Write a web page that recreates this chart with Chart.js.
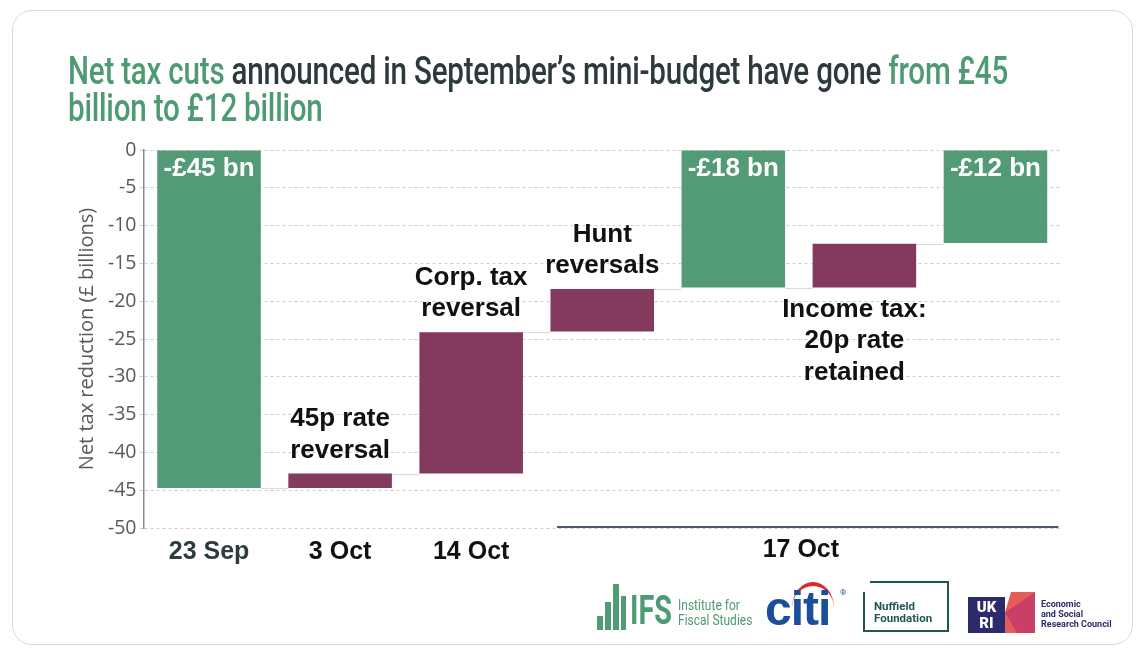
<!DOCTYPE html>
<html>
<head>
<meta charset="utf-8">
<script src="https://cdn.jsdelivr.net/npm/chart.js@4.4.1/dist/chart.umd.min.js"></script>
<style>
  html,body{margin:0;padding:0;background:#fff;width:1146px;height:656px;overflow:hidden;}
  #card{position:absolute;left:12px;top:10px;width:1119px;height:633px;border:1.5px solid #d9d9d9;border-radius:20px;}
  #chartWrap{position:absolute;left:0;top:0;width:1146px;height:656px;}
  #title{position:absolute;left:68px;top:53px;font-family:Roboto,"Noto Sans",sans-serif;font-weight:500;font-size:39px;line-height:37px;color:#2c3a3d;white-space:nowrap;transform-origin:0 0;letter-spacing:-0.3px;}
  #title .g{color:#4e9a73;}
  .logo{position:absolute;font-family:Roboto,"Liberation Sans",sans-serif;}
</style>
</head>
<body>
<div id="card"></div>
<div id="chartWrap"><canvas id="c" width="1146" height="656"></canvas></div>
<div id="title"><span id="l1"><span class="g">Net tax cuts</span> announced in September’s mini-budget have gone <span class="g">from £45</span></span><br><span class="g">billion to £12 billion</span></div>

<!-- logos -->
<div class="logo" style="left:597px;top:584px;width:30px;height:46px;">
  <div style="position:absolute;left:0;bottom:0;width:6px;height:14px;background:#4e9a73;"></div>
  <div style="position:absolute;left:8px;bottom:0;width:6px;height:28px;background:#4e9a73;"></div>
  <div style="position:absolute;left:16px;bottom:0;width:6px;height:46px;background:#4e9a73;"></div>
  <div style="position:absolute;left:24px;bottom:0;width:5px;height:34px;background:#4e9a73;"></div>
</div>
<div class="logo" style="left:630px;top:591px;font-size:40px;font-weight:700;color:#4e9a73;line-height:40px;transform:scaleX(0.72);transform-origin:0 0;">IFS</div>
<div class="logo" style="left:678px;top:598px;font-size:15px;color:#4e9a73;line-height:15px;transform:scaleX(0.8);transform-origin:0 0;white-space:nowrap;">Institute for<br>Fiscal Studies</div>
<div class="logo" style="left:792px;top:582px;width:42px;height:22px;border-top:4px solid #d8292f;border-radius:50% 50% 0 0 / 100% 100% 0 0;"></div>
<div class="logo" style="left:765px;top:586px;font-size:48px;font-weight:700;color:#1b4f9c;line-height:46px;font-family:'Liberation Sans',Arial,sans-serif;letter-spacing:-1px;">citi</div>
<div class="logo" style="left:840px;top:588px;font-size:8px;color:#1b4f9c;">®</div>
<div class="logo" style="left:863px;top:581px;width:82px;height:47px;border:2.5px solid #1f5755;border-left-width:2.5px;"></div>
<div class="logo" style="left:860px;top:578px;width:10px;height:14px;background:#fff;"></div>
<div class="logo" style="left:874px;top:600px;font-size:11.5px;font-weight:700;color:#1f5755;line-height:12px;">Nuffield<br>Foundation</div>
<div class="logo" style="left:968px;top:597px;width:37px;height:36px;background:#2c2a6b;color:#fff;font-weight:900;font-size:15px;line-height:16px;text-align:center;padding-top:2px;box-sizing:border-box;">UK<br>RI</div>
<div class="logo" style="left:1005px;top:592px;width:30px;height:41px;background:#e35d5b;clip-path:polygon(20% 0,100% 0,100% 100%,0 100%,0 50%);"></div>
<div class="logo" style="left:1005px;top:592px;width:30px;height:41px;background:#c4396b;clip-path:polygon(100% 0,100% 100%,40% 100%,0 50%);opacity:0.85;"></div>
<div class="logo" style="left:1041px;top:599px;font-size:9px;font-weight:700;color:#2c2a6b;line-height:10px;white-space:nowrap;">Economic<br>and Social<br>Research Council</div>

<script>
// ---- data ----
const categories = ['23 Sep', '3 Oct', '14 Oct', 'Hunt reversals', '17 Oct total', 'Income tax', '17 Oct final'];
const tickLabels = ['23 Sep', '3 Oct', '14 Oct', '', '', '', ''];
const groupLabel = '17 Oct';
const groupFrom = 3, groupTo = 6;
const barStart = [0, -44.7, -42.8, -24.0, 0, -18.2, 0];
const barEnd   = [-44.7, -42.8, -24.1, -18.4, -18.2, -12.4, -12.3];
const barKind  = ['total', 'change', 'change', 'change', 'total', 'change', 'total'];
const valueLabels = ['-£45 bn', '', '', '', '-£18 bn', '', '-£12 bn'];
const noteLines = [[], ['45p rate', 'reversal'], ['Corp. tax', 'reversal'], ['Hunt', 'reversals'], [], ['Income tax:', '20p rate', 'retained'], []];
const notePlacement = ['', 'above', 'above', 'above', '', 'below', ''];
const yMin = -50, yMax = 0, yStep = 5;
const yTitle = 'Net tax reduction (£ billions)';

// ---- styles ----
const GREEN = '#529b76', PURPLE = '#84395e';

// fit title width
const title = document.getElementById('title');
const l1 = document.getElementById('l1');
const w = l1.getBoundingClientRect().width;
title.style.transform = 'scaleX(' + (940 / w) + ')';

const overlay = {
  id: 'overlay',
  beforeDatasetsDraw(chart) {
    const ctx = chart.ctx, y = chart.scales.y;
    const meta = chart.getDatasetMeta(0);
    ctx.save();
    ctx.strokeStyle = '#dcdcdc';
    ctx.lineWidth = 1.2;
    for (let i = 0; i < meta.data.length - 1; i++) {
      const a = meta.data[i], b = meta.data[i + 1];
      const py = Math.round(y.getPixelForValue(barEnd[i])) + 0.5;
      ctx.beginPath();
      ctx.moveTo(a.x + a.width / 2, py);
      ctx.lineTo(b.x - b.width / 2, py);
      ctx.stroke();
    }
    ctx.restore();
  },
  afterDatasetsDraw(chart) {
    const ctx = chart.ctx, y = chart.scales.y, x = chart.scales.x;
    const meta = chart.getDatasetMeta(0);
    ctx.save();
    ctx.textAlign = 'center';
    ctx.textBaseline = 'middle';
    ctx.font = 'bold 26px "Liberation Sans", Arial, sans-serif';
    meta.data.forEach((el, i) => {
      if (valueLabels[i]) {
        ctx.fillStyle = '#ffffff';
        ctx.fillText(valueLabels[i], el.x, y.getPixelForValue(barStart[i]) + 19);
      }
      const lines = noteLines[i];
      if (lines.length) {
        ctx.fillStyle = '#111111';
        const top = Math.min(y.getPixelForValue(barStart[i]), y.getPixelForValue(barEnd[i]));
        const bot = Math.max(y.getPixelForValue(barStart[i]), y.getPixelForValue(barEnd[i]));
        const lh = 31.5;
        if (notePlacement[i] === 'above') {
          lines.forEach((t, k) => ctx.fillText(t, el.x, top - 23 - (lines.length - 1 - k) * lh));
        } else {
          lines.forEach((t, k) => ctx.fillText(t, el.x - 10, bot + 22 + k * lh));
        }
      }
    });
    // group label
    const step = x.getPixelForValue(1) - x.getPixelForValue(0);
    const gx1 = x.getPixelForValue(groupFrom) - step * 0.345;
    const gx2 = x.getPixelForValue(groupTo) + step * 0.48;
    const gy = chart.chartArea.bottom - 1;
    ctx.strokeStyle = '#4a566a';
    ctx.lineWidth = 2.2;
    ctx.beginPath(); ctx.moveTo(gx1, gy); ctx.lineTo(gx2, gy); ctx.stroke();
    ctx.fillStyle = '#111111';
    ctx.font = 'bold 25px "Liberation Sans", Arial, sans-serif';
    ctx.fillText(groupLabel, (x.getPixelForValue(groupFrom) + x.getPixelForValue(groupTo)) / 2 + 2, chart.chartArea.bottom + 22);
    ctx.restore();
  }
};

new Chart(document.getElementById('c'), {
  type: 'bar',
  data: {
    labels: categories,
    datasets: [{
      data: categories.map((c, i) => [barStart[i], barEnd[i]]),
      backgroundColor: barKind.map(k => k === 'total' ? GREEN : PURPLE),
      borderWidth: 0,
      borderSkipped: false,
      categoryPercentage: 1,
      barPercentage: 0.79
    }]
  },
  options: {
    responsive: false,
    animation: false,
    devicePixelRatio: 1,
    layout: { padding: { left: 74, right: 85, top: 150, bottom: 88 } },
    plugins: { legend: { display: false }, tooltip: { enabled: false }, title: { display: false } },
    scales: {
      x: {
        grid: { display: false },
        border: { display: false },
        afterFit(s) { s.height = 40; },
        ticks: {
          autoSkip: false, maxRotation: 0, padding: 1,
          callback: (v, i) => tickLabels[i],
          color: c => c.index === 0 ? '#2e3c40' : '#111111',
          font: { family: '"Liberation Sans", Arial, sans-serif', size: 25, weight: 'bold' }
        }
      },
      y: {
        min: yMin, max: yMax,
        afterFit(s) { s.width = 69.5; },
        ticks: {
          stepSize: yStep, padding: 3, color: '#595959',
          font: { family: '"Open Sans", "Noto Sans", sans-serif', size: 19.5 }
        },
        grid: { color: '#cfcfcf', lineWidth: 1, tickLength: 4 },
        border: { display: true, color: '#8a8a8a', width: 1.5, dash: [3, 3] },
        title: {
          display: true, text: yTitle, color: '#595959', padding: { top: 1, bottom: 2 },
          font: { family: '"Open Sans", "Noto Sans", sans-serif', size: 20 }
        }
      }
    }
  },
  plugins: [overlay]
});
</script>
</body>
</html>
